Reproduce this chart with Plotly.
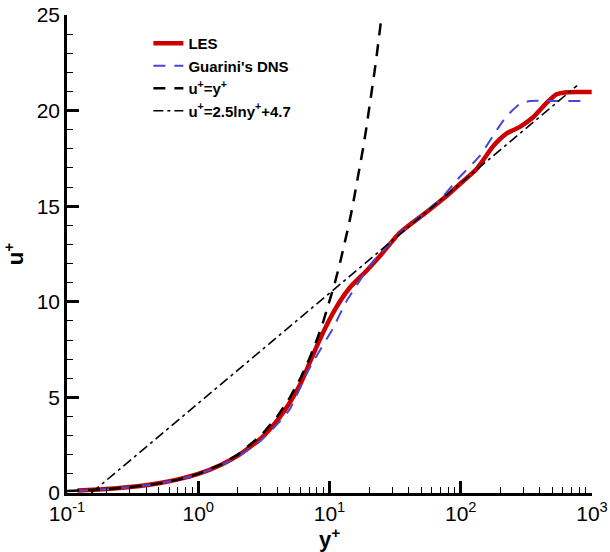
import plotly.graph_objects as go

# LES
les_y = [0.12, 0.2, 0.3, 0.5, 0.7, 1.0, 1.5, 2.0, 3.0, 4.0, 5.0, 6.0, 7.0, 8.4, 10.6, 14.2, 19.0, 25,
         34.2, 55, 80, 100, 132, 177, 223, 282, 356, 451, 537, 618, 800, 995]
les_u = [0.13, 0.21, 0.31, 0.51, 0.71, 1.0, 1.48, 1.95, 2.85, 3.8, 4.75, 5.7, 6.75, 8.0, 9.4, 10.72, 11.6, 12.5,
         13.6, 14.7, 15.6, 16.2, 16.95, 18.15, 18.8, 19.15, 19.65, 20.4, 20.85, 20.95, 20.97, 20.97]

# Guarini's DNS
dns_y = [0.12, 0.2, 0.3, 0.5, 0.7, 1.0, 1.5, 2.0, 3.0, 4.0, 5.0, 7.0, 10.6, 13.4, 21.4, 34, 55, 73, 93,
         140, 193, 223, 282, 337, 500, 860]
dns_u = [0.12, 0.2, 0.3, 0.5, 0.7, 0.98, 1.45, 1.9, 2.75, 3.6, 4.4, 6.5, 8.6, 10.0, 12.1, 13.55, 14.75, 15.5,
         16.35, 17.65, 19.1, 19.7, 20.35, 20.5, 20.5, 20.5]

# u+ = y+
lin_y = [0.1, 0.15, 0.2, 0.3, 0.5, 0.7, 1, 1.5, 2, 3, 4, 5, 6, 7, 8, 9, 10, 11, 12, 13, 14, 15, 16, 17,
         18, 19, 20, 21, 22, 23, 24, 25]
lin_u = [0.1, 0.15, 0.2, 0.3, 0.5, 0.7, 1, 1.5, 2, 3, 4, 5, 6, 7, 8, 9, 10, 11, 12, 13, 14, 15, 16, 17,
         18, 19, 20, 21, 22, 23, 24, 25]

# u+ = 2.5 ln y+ + 4.7
log_y = [0.153, 1, 10, 100, 770]
log_u = [0.0, 4.7, 10.46, 16.21, 21.31]

x_tickvals = [0.1, 1, 10, 100, 1000]
x_ticktext = ["10<sup>-1</sup>", "10<sup>0</sup>", "10<sup>1</sup>", "10<sup>2</sup>", "10<sup>3</sup>"]
x_minorvals = [m * d for d in (0.1, 1, 10, 100) for m in range(2, 10)]
y_tickvals = [0, 5, 10, 15, 20, 25]

fig = go.Figure()
fig.add_trace(go.Scatter(x=les_y, y=les_u, mode="lines", name="LES",
                         line=dict(color="#cc0000", width=4.5, shape="spline", smoothing=0.6)))
fig.add_trace(go.Scatter(x=dns_y, y=dns_u, mode="lines", name="Guarini's DNS",
                         line=dict(color="#4747d8", width=2, dash="12px,9px", shape="spline", smoothing=0.5)))
fig.add_trace(go.Scatter(x=lin_y, y=lin_u, mode="lines", name="u<sup>+</sup>=y<sup>+</sup>",
                         line=dict(color="black", width=2.5, dash="12px,9px")))
fig.add_trace(go.Scatter(x=log_y, y=log_u, mode="lines", name="u<sup>+</sup>=2.5lny<sup>+</sup>+4.7",
                         line=dict(color="black", width=1.6, dash="10px,4px,3px,4px")))

fig.update_layout(
    width=610, height=552,
    margin=dict(l=67, r=18, t=15, b=59),
    paper_bgcolor="white", plot_bgcolor="white",
    font=dict(family="Liberation Sans, Arial, sans-serif", color="black"),
    showlegend=True,
    legend=dict(x=0.155, y=0.975, xanchor="left", yanchor="top",
                font=dict(size=15, family="Liberation Sans, Arial, sans-serif", color="black", weight="bold"),
                bgcolor="rgba(255,255,255,0)", tracegroupgap=0),
    xaxis=dict(type="log", range=[-1, 3], showline=True, linecolor="black", linewidth=2.5,
               mirror=False, showgrid=False, zeroline=False, automargin=False,
               tickvals=x_tickvals, ticktext=x_ticktext, ticks="inside", ticklen=12, tickwidth=2.5,
               tickcolor="black", tickfont=dict(size=21),
               minor=dict(ticks="inside", ticklen=6, tickwidth=1, tickcolor="black",
                          tickvals=x_minorvals, showgrid=False),
               title=dict(text="<b>y<sup>+</sup></b>", font=dict(size=22), standoff=2)),
    yaxis=dict(range=[0, 25], showline=True, linecolor="black", linewidth=2.5, mirror=False,
               showgrid=False, zeroline=False, automargin=False,
               tickvals=y_tickvals, ticks="inside", ticklen=12, tickwidth=2.5, tickcolor="black",
               tickfont=dict(size=21),
               minor=dict(ticks="inside", ticklen=6, tickwidth=1, tickcolor="black", dtick=1, showgrid=False),
               title=dict(text="<b>u<sup>+</sup></b>", font=dict(size=22), standoff=10)),
)

fig.write_html("out.html", config={"displayModeBar": False},
               post_script="document.body.style.margin='0px';document.body.style.overflow='hidden';")
